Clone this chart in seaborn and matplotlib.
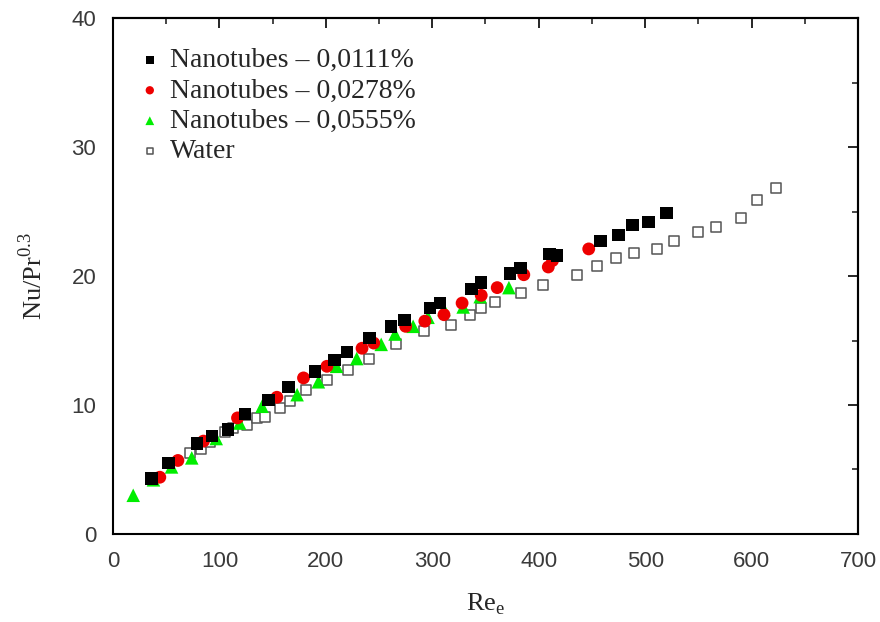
import numpy as np
import pandas as pd
import matplotlib
matplotlib.use("Agg")
import matplotlib.pyplot as plt
from matplotlib.ticker import MultipleLocator
import seaborn as sns

# ---- data ----
re_0111 = [36, 52, 79, 93, 108, 124, 146, 165, 190, 208, 220, 241, 261, 274, 298, 307,
           337, 346, 373, 383, 410, 417, 458, 475, 488, 503, 520]
nu_0111 = [4.3, 5.5, 7.0, 7.6, 8.1, 9.3, 10.4, 11.4, 12.6, 13.5, 14.1, 15.2, 16.1, 16.6,
           17.5, 17.9, 19.0, 19.5, 20.2, 20.6, 21.7, 21.6, 22.7, 23.2, 23.95, 24.2, 24.9]

re_0278 = [44, 61, 85, 117, 154, 179, 201, 234, 245, 275, 293, 311, 328, 346, 361, 386,
           409, 413, 447]
nu_0278 = [4.4, 5.7, 7.2, 9.0, 10.6, 12.1, 13.0, 14.4, 14.8, 16.1, 16.5, 17.0, 17.9, 18.5,
           19.1, 20.1, 20.7, 21.2, 22.1]

re_0555 = [19, 38, 55, 74, 97, 119, 140, 173, 193, 210, 229, 252, 265, 282, 296, 311,
           329, 345, 372]
nu_0555 = [3.0, 4.2, 5.2, 5.9, 7.4, 8.6, 9.9, 10.8, 11.8, 13.0, 13.6, 14.7, 15.5, 16.1,
           16.8, 17.4, 17.6, 18.4, 19.1]

re_water = [72, 83, 91, 105, 113, 126, 135, 143, 157, 166, 181, 201, 221, 241, 266, 292,
            318, 335, 346, 359, 383, 404, 436, 455, 473, 490, 511, 527, 550, 567, 590,
            605, 623]
nu_water = [6.25, 6.6, 7.1, 7.9, 8.2, 8.45, 9.0, 9.1, 9.8, 10.3, 11.2, 11.9, 12.7, 13.6,
            14.7, 15.7, 16.2, 17.0, 17.5, 18.0, 18.7, 19.3, 20.1, 20.8, 21.4, 21.8, 22.1,
            22.7, 23.4, 23.8, 24.5, 25.9, 26.8]

labels = ["Nanotubes \u2013 0,0111%", "Nanotubes \u2013 0,0278%",
          "Nanotubes \u2013 0,0555%", "Water"]

# ---- figure ----
sns.set_style("white")
plt.rcParams["font.family"] = ["Liberation Serif", "DejaVu Serif"]

fig = plt.figure(figsize=(8.8, 6.22), dpi=100)
ax = fig.add_axes([0.1284, 0.1415, 0.8466, 0.8295])

sns.scatterplot(x=re_water, y=nu_water, ax=ax, marker="s", s=60,
                facecolor="white", edgecolor="#555555", linewidth=1.1,
                label=labels[3], zorder=2)
sns.scatterplot(x=re_0555, y=nu_0555, ax=ax, marker="^", s=95,
                color="#00ee00", edgecolor="none", linewidth=0,
                label=labels[2], zorder=3)
sns.scatterplot(x=re_0278, y=nu_0278, ax=ax, marker="o", s=85,
                color="#ee0000", edgecolor="none", linewidth=0,
                label=labels[1], zorder=4)
sns.scatterplot(x=re_0111, y=nu_0111, ax=ax, marker="s", s=80,
                color="black", edgecolor="none", linewidth=0,
                label=labels[0], zorder=5)

ax.set_xlim(0, 700)
ax.set_ylim(0, 40)
ax.xaxis.set_major_locator(MultipleLocator(100))
ax.xaxis.set_minor_locator(MultipleLocator(50))
ax.yaxis.set_major_locator(MultipleLocator(10))
ax.yaxis.set_minor_locator(MultipleLocator(5))

for sp in ax.spines.values():
    sp.set_visible(True)
    sp.set_color("black")
    sp.set_linewidth(1.5)

ax.tick_params(which="major", direction="out", length=7, width=1.4,
               color="black", labelcolor="#3a3a3a", labelsize=16, pad=5)
ax.tick_params(which="minor", direction="out", length=4, width=1.2, color="black")
for lab in ax.get_xticklabels() + ax.get_yticklabels():
    lab.set_family(["Liberation Sans", "DejaVu Sans"])

# mirrored inward ticks on top/right
secx = ax.secondary_xaxis("top")
secx.xaxis.set_major_locator(MultipleLocator(100))
secx.xaxis.set_minor_locator(MultipleLocator(50))
secx.tick_params(which="major", direction="in", length=7, width=1.4, labeltop=False)
secx.tick_params(which="minor", direction="in", length=4, width=1.2)
secx.spines["top"].set_linewidth(1.5)
secy = ax.secondary_yaxis("right")
secy.yaxis.set_major_locator(MultipleLocator(10))
secy.yaxis.set_minor_locator(MultipleLocator(5))
secy.tick_params(which="major", direction="in", length=7, width=1.4, labelright=False)
secy.tick_params(which="minor", direction="in", length=4, width=1.2)
secy.spines["right"].set_linewidth(1.5)

ax.set_xlabel(r"Re$_\mathregular{e}$", fontsize=19, labelpad=14)
ax.set_ylabel(r"Nu/Pr$^\mathregular{0.3}$", fontsize=19, labelpad=18)

handles, labs = ax.get_legend_handles_labels()
order = [labs.index(l) for l in labels]
leg = ax.legend([handles[i] for i in order], [labs[i] for i in order],
                loc="upper left", bbox_to_anchor=(0.0, 0.991), frameon=False,
                fontsize=20, handletextpad=0.3, labelspacing=0.18,
                borderaxespad=0.5, handlelength=0.85, markerscale=0.65)

fig.savefig("out.png", dpi=100)
